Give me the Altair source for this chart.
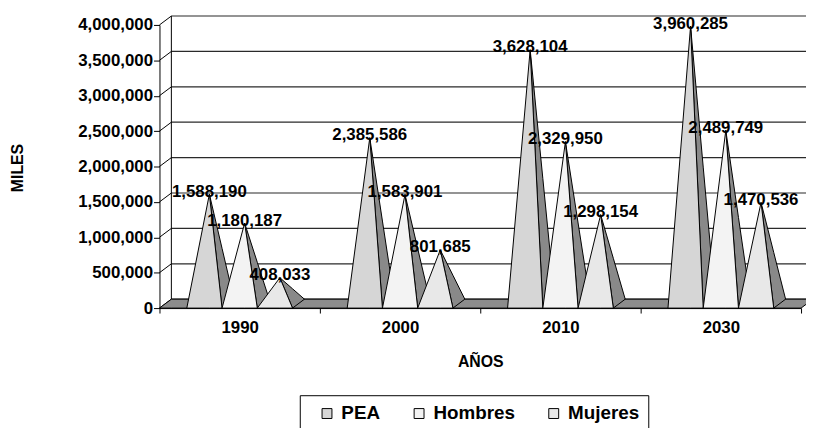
import altair as alt
import pandas as pd

# ---------------- data ----------------
YEARS = ["1990", "2000", "2010", "2030"]
SERIES = ["PEA", "Hombres", "Mujeres"]
PEA = [1588190, 2385586, 3628104, 3960285]
HOMBRES = [1180187, 1583901, 2329950, 2489749]
MUJERES = [408033, 801685, 1298154, 1470536]
Y_TICKS = [0, 500000, 1000000, 1500000, 2000000, 2500000, 3000000, 3500000, 4000000]

# ---------------- style ----------------
FRONT_COLORS = ["#d6d6d6", "#f3f3f3", "#e8e8e8"]
SIDE_COLOR = "#898989"
FLOOR_COLOR = "#8c8c8c"
GRID_COLOR = "#2a2a2a"
FONT = "Liberation Sans"

W, H = 648, 286
Y_MAX = 4000000
N = len(YEARS)
UX = N / W          # x data units per pixel
UY = Y_MAX / H      # y data units per pixel
DX, DY = 12 * UX, 9 * UY          # 3-D depth offset
PYR_W = 35.6 * UX                 # pyramid base width
APEX_DX, APEX_DY = 5 * UX, 1.5 * UY

values = {"PEA": PEA, "Hombres": HOMBRES, "Mujeres": MUJERES}

front_rows, side_rows, label_rows = [], [], []
for i, year in enumerate(YEARS):
    for j, s in enumerate(SERIES):
        v = values[s][i]
        fl = i + 0.5 + (j - 1.5) * PYR_W
        fr = fl + PYR_W
        ax = (fl + fr) / 2 + APEX_DX
        ay = v + APEX_DY
        pid = f"{year}-{s}"
        front_rows += [
            dict(pid=pid, series=s, x=fl, y=0, y2=0),
            dict(pid=pid, series=s, x=ax, y=ay, y2=0),
            dict(pid=pid, series=s, x=fr, y=0, y2=0),
        ]
        bx, by = fr + DX, DY
        t = (fr - ax) / (bx - ax)
        upper = ay + (by - ay) * t
        side_rows += [
            dict(pid=pid, x=ax, y=ay, y2=ay),
            dict(pid=pid, x=fr, y=upper, y2=0),
            dict(pid=pid, x=bx, y=by, y2=by),
        ]
        label_rows.append(dict(x=ax, y=ay, text=f"{v:,}"))

front_df = pd.DataFrame(front_rows)
side_df = pd.DataFrame(side_rows)
label_df = pd.DataFrame(label_rows)
floor_df = pd.DataFrame([
    dict(x=0, y=0, y2=0),
    dict(x=DX, y=DY, y2=0),
    dict(x=N, y=DY, y2=0),
    dict(x=N + DX, y=DY, y2=DY),
])
grid_df = pd.DataFrame({
    "x": [0.0] * len(Y_TICKS),
    "xb": [DX] * len(Y_TICKS),
    "xe": [N + DX] * len(Y_TICKS),
    "yf": Y_TICKS,
    "y": [t + DY for t in Y_TICKS],
})
wall_df = pd.DataFrame({"x": [DX], "y": [DY], "y2": [Y_MAX + DY]})

XS = alt.Scale(domain=[0, N], nice=False, zero=False)
YS = alt.Scale(domain=[0, Y_MAX], nice=False, zero=False)

year_expr = "[" + ",".join(f"'{y}'" for y in YEARS) + "][datum.value] || ''"

X_AXIS = alt.Axis(
    values=list(range(N + 1)), labelExpr=year_expr, labelOffset=W / N / 2,
    tickSize=5, tickColor="black", domainColor="black", grid=False,
    labelFont=FONT, labelFontSize=17, labelFontWeight="bold", labelColor="black",
    labelPadding=7, labelFlush=False, labelOverlap=False,
    title="AÑOS", titleFont=FONT, titleFontSize=16, titleFontWeight="bold",
    titleColor="black", titleY=54, titleBaseline="middle",
)
Y_AXIS = alt.Axis(
    values=Y_TICKS, format=",d", tickSize=6, tickColor="black",
    domainColor="black", grid=False,
    labelFont=FONT, labelFontSize=17, labelFontWeight="bold", labelColor="black",
    labelPadding=1, labelFlush=False, labelOverlap=False,
    title="MILES", titleFont=FONT, titleFontSize=16, titleFontWeight="bold",
    titleColor="black", titleX=-143.5, titleY=144, titleAngle=270,
    titleBaseline="middle", titleAlign="center",
)


def X(field):
    return alt.X(field, type="quantitative", scale=XS, axis=X_AXIS)


def Y(field):
    return alt.Y(field, type="quantitative", scale=YS, axis=Y_AXIS)


# back wall gridlines
grid_back = alt.Chart(grid_df).mark_rule(color=GRID_COLOR, strokeWidth=1.2).encode(
    x=X("xb"), x2="xe:Q", y=Y("y"),
)
# left wall diagonals
grid_left = alt.Chart(grid_df).mark_rule(color="black", strokeWidth=1).encode(
    x=X("x"), x2="xb:Q", y=Y("yf"), y2="y:Q",
)
wall_edge = alt.Chart(wall_df).mark_rule(color="black", strokeWidth=1).encode(
    x=X("x"), y=Y("y"), y2="y2:Q",
)
floor = alt.Chart(floor_df).mark_area(
    fill=FLOOR_COLOR, stroke="black", strokeWidth=1
).encode(x=X("x"), y=Y("y"), y2="y2:Q")
sides = alt.Chart(side_df).mark_area(
    fill=SIDE_COLOR, stroke="black", strokeWidth=1
).encode(x=X("x"), y=Y("y"), y2="y2:Q", detail="pid:N")
fronts = alt.Chart(front_df).mark_area(
    stroke="black", strokeWidth=1, opacity=1
).encode(
    x=X("x"), y=Y("y"), y2="y2:Q",
    detail="pid:N",
    color=alt.Color(
        "series:N",
        scale=alt.Scale(domain=SERIES, range=FRONT_COLORS),
        sort=SERIES,
        legend=alt.Legend(
            title=None, orient="none", legendX=141.7, legendY=374,
            direction="horizontal", columns=3, gridAlign="none",
            symbolType="square", symbolSize=100, symbolStrokeColor="black",
            symbolStrokeWidth=1, symbolOffset=9,
            labelFont=FONT, labelFontSize=19, labelFontWeight="bold",
            labelColor="black", labelOffset=5, columnPadding=20,
            strokeColor="black", fillColor="white", padding=9,
        ),
    ),
)
labels = alt.Chart(label_df).mark_text(
    font=FONT, fontSize=17, fontWeight="bold", color="black",
    baseline="middle", align="center", dy=-2.5,
).encode(x=X("x"), y=Y("y"), text="text:N")

chart = alt.layer(
    grid_back, grid_left, wall_edge, floor, sides, fronts, labels
).properties(
    width=W, height=H,
    padding={"left": 153, "top": 15, "right": 5, "bottom": 119},
    autosize=alt.AutoSizeParams(type="none"),
    background="white",
).configure_view(stroke=None)

chart.save("out.html", embed_options={"renderer": "svg", "actions": False})
